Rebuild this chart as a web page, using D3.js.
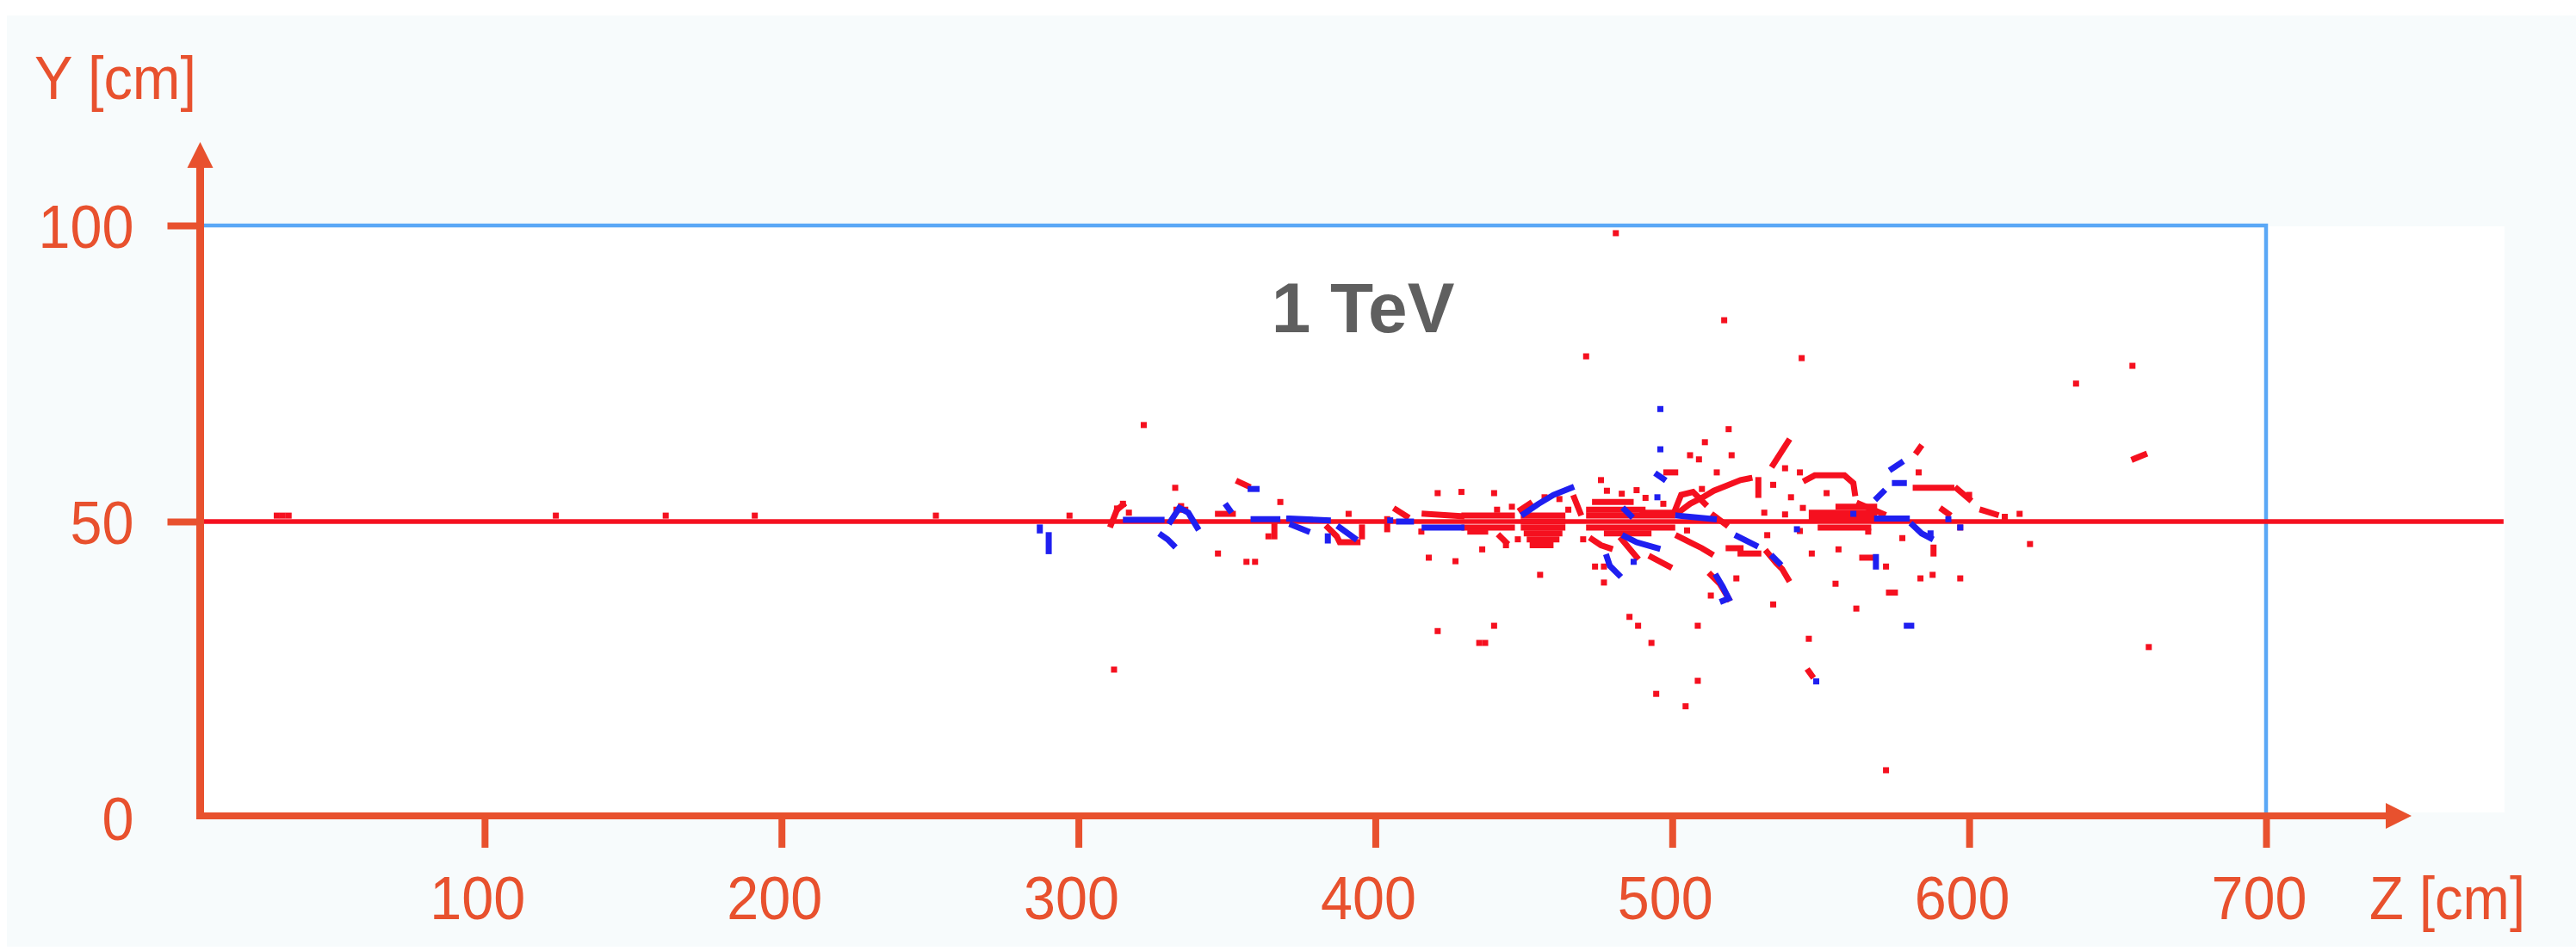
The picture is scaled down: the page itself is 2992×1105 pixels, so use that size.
<!DOCTYPE html>
<html><head><meta charset="utf-8">
<script src="https://cdn.jsdelivr.net/npm/d3@7"></script>
<style>
html,body{margin:0;padding:0;background:#fff;}
svg{display:block;}
text{font-family:"Liberation Sans",Arial,Helvetica,sans-serif;}
</style></head>
<body>
<script>
// ---------- data (Z, Y in cm) ----------
const xTicks = [100, 200, 300, 400, 500, 600, 700];
const yTicks = [0, 50, 100];
const xLabel = "Z [cm]";
const yLabel = "Y [cm]";
const title = "1 TeV";
const titlePos = [365, 82];
const beamLine = [[4, 50], [780, 50]];
const boxOutline = [[4, 100], [700, 100], [700, 0]];

const redHits = [
  [30,51],[32,51],[34,51],[124,51],[161,51],[191,51],[252,51],[297,51],
  [322,66.3],[332.6,55.7],[334.6,52.6],[313,52.2],[315,53],[317,51.5],
  [368,53.3],[364,47.5],[347,44.6],[356.6,43.2],[359.5,43.2],[391,51.3],[415.5,48.3],[421,54.8],[418,43.9],[427,43.3],
  [481,98.7],[517.5,84],[543.6,77.6],[471,77.9],[519,65.6],[511,63.4],[506,61.2],[509,60.5],[520,61.2],[538,59],[543,58.3],
  [583,58.3],[515,58.3],[476,57],[552,54.8],[540,54.1],[534,56.2],[510,55.5],[440,54.8],[429,55],
  [617,51.3],[620.5,46.2],[597,49],[600,54.5],[612,50.8],
  [436,45.3],[444,46],[455.5,41],[477,39.7],[474,42.4],[477,42.4],[513,37.5],[521.6,40.4],[534,36],[547,44.6],[556,45.3],
  [555,39.5],[562,35.3],[572,42.4],[583.6,40.4],[587.7,41],[597,40.4],[577.5,47.2],[566,48.3],[532,47.7],[543,48.4],
  [485.6,33.9],[440,32.4],[488.5,32.4],[508.6,32.4],[435,29.5],[437,29.5],[493,29.5],[546,30.2],[508.6,23.1],[494.6,20.9],[504.5,18.8],[572,8],
  [655,76.3],[636,73.3],[660.5,28.8],[312,25],[421,31.5],
  [457,54.1],[462,53.8],[441,52],[478,55.2],[483,54.7],[488,55.3],[491,54],
  [446,52.5],[448,47],[465,52],[470,47],[497,53],[505,48.5],[531,51.5],[538,51.2],[544,52.3]
];
const redTracks = [
  [[347,51.3],[352,51.3]],
  [[354,56.7],[357,56]],
  [[366,49.4],[366,47.5]],
  [[384,49],[387,47.5],[388,46.5],[394,46.5]],
  [[395.5,49],[395.5,47.5]],
  [[404,50.4],[404,48.7]],
  [[407,52],[410.5,50.9]],
  [[416.6,51.3],[429,50.9]],
  [[311,49.5],[313,52],[315,52.8]],
  [[333,52],[336,52]],
  [[539,63.5],[534,59.6]],
  [[583.5,62.5],[582.5,61.8]],
  [[545,57],[548,57.8],[558,57.8],[561,56.5],[561.5,54.8]],
  [[529,57],[529,54.5]],
  [[502,51.5],[506,53],[510,54],[514,55.2],[518,56],[523,57],[526,57.3]],
  [[498,58.3],[501,58.3]],
  [[582,55.7],[594,55.7]],
  [[596,55.5],[600,53.8]],
  [[591,52],[593,51.3]],
  [[563,53],[571,51.3]],
  [[604.5,51.9],[609,51.2]],
  [[430,51],[446,51]],
  [[430,49],[446,49]],
  [[432,48.3],[437,48.3]],
  [[442,47.5],[444,46.5]],
  [[449,52],[452,53]],
  [[450,51],[463,51]],
  [[450,50],[463,50]],
  [[450,49],[463,49]],
  [[451,48],[462,48]],
  [[452,47],[461,47]],
  [[453,46],[459,46]],
  [[467,54],[469,51.5]],
  [[472,52],[490,52]],
  [[474,53.3],[486,53.3]],
  [[472,51],[500,51]],
  [[472,49],[500,49]],
  [[478,48],[492,48]],
  [[483,47],[488,44]],
  [[490,51.5],[500,51.5]],
  [[473,47],[476,46],[479,45.5]],
  [[501,52],[503,54.5],[507,55],[511,53]],
  [[514,51],[518,49.5]],
  [[547,51.5],[568,51.5]],
  [[547,50.5],[568,50.5]],
  [[550,49],[566,49]],
  [[556,52.5],[568,52.5]],
  [[493,44],[499,42.4]],
  [[502,47.5],[506,46.5],[510,45.5],[513,44.6]],
  [[513,41],[516,39.5],[519,37]],
  [[519,45.5],[523,45.5]],
  [[523,44.6],[529,44.6]],
  [[532,44.8],[535,43],[537,42],[539,40.3]],
  [[564,43.9],[568,43.9]],
  [[573,38],[575,38]],
  [[588,45.6],[588,44.6]],
  [[546,24.7],[547,24]],
  [[655.6,60.6],[659,61.3]]
];
const blueHits = [
  [405,50.2],[496,62.2],[496,69],[495,54.1],[561,51.3],[593,50.4],[597,49],[487,43.2],[548.5,23],[587,48],[542,48.7]
];
const blueTracks = [
  [[287,49],[287,48.5]],
  [[290,47.7],[290,45]],
  [[316,50.3],[328,50.3]],
  [[328,47.7],[330,47],[332,46]],
  [[331,50],[334,52.3],[337,51.5],[340,49]],
  [[358,55.5],[360,55.5]],
  [[350,52.6],[351,51.9]],
  [[359,50.4],[367,50.4]],
  [[371,50.5],[384,50.2]],
  [[372,49.4],[377,48.4]],
  [[388,49],[393,47.2]],
  [[384,47.5],[384,46.8]],
  [[408,50],[412,50]],
  [[416.6,49],[429,49]],
  [[495,57.9],[497,57.2]],
  [[577,59.9],[574,58.9]],
  [[575,56.5],[578,56.5]],
  [[569,54],[571,55]],
  [[450,51.3],[455,53],[460,54.5],[466,55.7]],
  [[484,52],[486,51]],
  [[502,51],[514,50.4]],
  [[569,50.5],[579,50.5]],
  [[581,49.4],[584,48],[587,47.2]],
  [[484,47.5],[488,46.5],[495,45.5]],
  [[478,44],[479,42.5],[482,41]],
  [[515,40.7],[517,39],[519,37],[517,36.6]],
  [[522,47.5],[528,46]],
  [[534,44],[536,43]],
  [[568.6,44],[568.6,42.4]],
  [[579,32.4],[580.5,32.4]]
];

// ---------- layout ----------
const W = 2992, H = 1105;
const AX = "#e8512e";
const svg = d3.select("body").append("svg").attr("width", W).attr("height", H);

const x = d3.scaleLinear().domain([0, 700]).range([218, 2632]);
const y = d3.scaleLinear().domain([0, 100]).range([950, 262]);
const axisX = 232.5, axisY = 948;

// backgrounds
svg.append("rect").attr("x", 8).attr("y", 18).attr("width", W - 8).attr("height", 1082).attr("fill", "#f7fbfc");
svg.append("rect").attr("x", 237).attr("y", 263).attr("width", 2909 - 237).attr("height", 944 - 263).attr("fill", "#ffffff");

const line = d3.line().x(d => x(d[0])).y(d => y(d[1]));

// blue box
svg.append("path").attr("d", line(boxOutline)).attr("fill", "none")
  .attr("stroke", "#5aa8f6").attr("stroke-width", 4.5);

const RED = "#f5101f", BLUE = "#1f1ff0";
// beam line
svg.append("path").attr("d", line(beamLine)).attr("fill", "none")
  .attr("stroke", RED).attr("stroke-width", 5.5);

const gHits = svg.append("g");
gHits.selectAll(".rt").data(redTracks).join("path").attr("d", line)
  .attr("fill", "none").attr("stroke", RED).attr("stroke-width", 7)
  .attr("stroke-linecap", "square").attr("stroke-linejoin", "miter");
gHits.selectAll(".rh").data(redHits).join("rect")
  .attr("x", d => x(d[0]) - 3.5).attr("y", d => y(d[1]) - 3.5).attr("width", 7).attr("height", 7).attr("fill", RED);
gHits.selectAll(".bt").data(blueTracks).join("path").attr("d", line)
  .attr("fill", "none").attr("stroke", BLUE).attr("stroke-width", 7)
  .attr("stroke-linecap", "square").attr("stroke-linejoin", "miter");
gHits.selectAll(".bh").data(blueHits).join("rect")
  .attr("x", d => x(d[0]) - 3.5).attr("y", d => y(d[1]) - 3.5).attr("width", 7).attr("height", 7).attr("fill", BLUE);

// axes via d3 axis generators
const yAxis = d3.axisLeft(y).tickValues(yTicks).tickSize(38).tickPadding(39).tickFormat(d3.format("d"));
const gy = svg.append("g").attr("transform", `translate(${axisX},0)`).call(yAxis);
gy.select(".domain").remove();
gy.selectAll(".tick line").attr("stroke", AX).attr("stroke-width", 8)
  .attr("display", d => d === 0 ? "none" : null);
gy.selectAll(".tick text").attr("fill", AX).attr("font-size", 70)
  .attr("font-family", "Liberation Sans, Arial, sans-serif").attr("dy", "0.36em")
  .attr("x", -81).attr("transform", "scale(0.95,1)");

const xAxis = d3.axisBottom(x).tickValues(xTicks).tickSize(37).tickPadding(33).tickFormat(d3.format("d"));
const gx = svg.append("g").attr("transform", `translate(0,${axisY})`).call(xAxis);
gx.select(".domain").remove();
gx.selectAll(".tick line").attr("stroke", AX).attr("stroke-width", 8);
gx.selectAll(".tick text").attr("fill", AX).attr("font-size", 70)
  .attr("font-family", "Liberation Sans, Arial, sans-serif").attr("dx", -9)
  .attr("transform", "scale(0.95,1)");

// axis lines with arrows
svg.append("line").attr("x1", axisX).attr("x2", axisX).attr("y1", axisY + 4).attr("y2", 192)
  .attr("stroke", AX).attr("stroke-width", 9);
svg.append("path").attr("d", `M${axisX},165 L${axisX - 15},195 L${axisX + 15},195 Z`).attr("fill", AX);
svg.append("line").attr("x1", axisX - 4.5).attr("x2", 2775).attr("y1", axisY).attr("y2", axisY)
  .attr("stroke", AX).attr("stroke-width", 8);
svg.append("path").attr("d", `M2801,${axisY} L2771,${axisY - 15} L2771,${axisY + 15} Z`).attr("fill", AX);

// axis titles
svg.append("text").attr("x", 40).attr("y", 115).attr("font-size", 70).attr("fill", AX)
  .attr("textLength", 188).attr("lengthAdjust", "spacingAndGlyphs").text(yLabel);
svg.append("text").attr("x", 2752).attr("y", 1068).attr("font-size", 70).attr("fill", AX)
  .attr("textLength", 181).attr("lengthAdjust", "spacingAndGlyphs").text(xLabel);

// annotation
svg.append("text").attr("x", x(titlePos[0])).attr("y", y(titlePos[1]))
  .attr("font-size", 82).attr("font-weight", "bold").attr("fill", "#5f5f5f").text(title);
</script>
</body></html>
